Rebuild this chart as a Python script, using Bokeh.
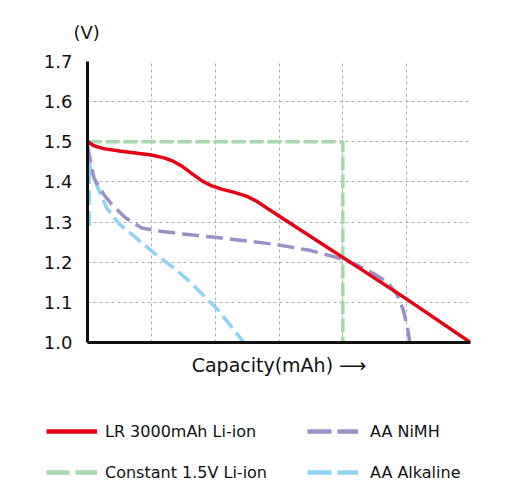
from bokeh.plotting import figure
from bokeh.layouts import column
from bokeh.models import Range1d, FixedTicker, Legend, LegendItem, Title, CustomJSTickFormatter
from bokeh.embed import file_html
from bokeh.resources import INLINE

# ---- data (capacity in grid units 0..6, voltage in V) ----
li_x = [0, 0.1, 0.25, 0.5, 0.75, 1.0, 1.2, 1.35, 1.5, 1.65, 1.8, 1.95, 2.1, 2.3, 2.5, 2.65, 2.8, 3.0, 4.0, 5.0, 6.0]
li_y = [1.5, 1.49, 1.483, 1.477, 1.472, 1.467, 1.46, 1.451, 1.437, 1.419, 1.402, 1.39, 1.382, 1.374, 1.364, 1.352, 1.336, 1.315, 1.212, 1.108, 1.0]

const_x = [0, 4, 4]
const_y = [1.5, 1.5, 1.0]

nimh_x = [0, 0.1, 0.25, 0.4, 0.6, 0.85, 1.1, 1.5, 2.0, 2.5, 3.0, 3.5, 3.9, 4.2, 4.5, 4.7, 4.85, 4.95, 5.02, 5.05]
nimh_y = [1.49, 1.41, 1.37, 1.34, 1.31, 1.285, 1.278, 1.27, 1.262, 1.253, 1.243, 1.229, 1.212, 1.195, 1.17, 1.15, 1.12, 1.08, 1.03, 1.0]

alk_x = [0.025, 0.025, 0.05, 0.15, 0.3, 0.5, 0.75, 1.05, 1.35, 1.6, 1.8, 2.05, 2.25, 2.45]
alk_y = [1.29, 1.45, 1.43, 1.39, 1.335, 1.295, 1.262, 1.222, 1.186, 1.152, 1.12, 1.08, 1.04, 1.0]

y_ticks = [1.0, 1.1, 1.2, 1.3, 1.4, 1.5, 1.6, 1.7]
x_grid = [0, 1, 2, 3, 4, 5, 6]

labels = ["LR 3000mAh Li-ion", "Constant 1.5V Li-ion", "AA NiMH", "AA Alkaline"]
colors = ["#E60012", "#A6D8AE", "#9B8FC8", "#8ED3F3"]

FONT = "DejaVu Sans"

p = figure(width=512, height=400, output_backend="svg", toolbar_location=None,
           x_range=Range1d(0, 6), y_range=Range1d(1.0, 1.7),
           min_border_left=87, min_border_right=42, min_border_top=61, min_border_bottom=58)
p.frame_align = False
p.outline_line_color = None
p.background_fill_color = "white"

# grid
p.xgrid.ticker = FixedTicker(ticks=x_grid)
p.ygrid.ticker = FixedTicker(ticks=y_ticks)
for g in (p.xgrid, p.ygrid):
    g.grid_line_color = "#b0b0b0"
    g.grid_line_dash = "3 3"
    g.grid_line_width = 1

# y axis
ya = p.yaxis[0]
ya.ticker = FixedTicker(ticks=y_ticks)
ya.formatter = CustomJSTickFormatter(code="return tick.toFixed(1);")
ya.axis_line_width = 3
ya.axis_line_color = "#111111"
ya.major_tick_out = 0
ya.major_tick_in = 0
ya.minor_tick_out = 0
ya.minor_tick_in = 0
ya.major_tick_line_color = None
ya.minor_tick_line_color = None
ya.major_label_text_font = FONT
ya.major_label_text_font_size = "18px"
ya.major_label_text_color = "#111111"
ya.major_label_standoff = 15

# x axis (no tick labels)
xa = p.xaxis[0]
xa.ticker = FixedTicker(ticks=[])
xa.axis_line_width = 3
xa.axis_line_color = "#111111"
xa.major_tick_out = 0
xa.major_tick_in = 0
xa.minor_tick_out = 0
xa.minor_tick_in = 0
xa.major_tick_line_color = None
xa.minor_tick_line_color = None
xa.axis_label = "Capacity(mAh) ⟶"
xa.axis_label_text_font = FONT
xa.axis_label_text_font_size = "19px"
xa.axis_label_text_font_style = "normal"
xa.axis_label_text_color = "#111111"
xa.axis_label_standoff = 11

# "(V)" unit title
t = Title(text="(V)", align="left", offset=-14, standoff=38,
          text_font=FONT, text_font_size="18px", text_font_style="normal", text_color="#111111")
p.add_layout(t, "above")

# curves
p.line(alk_x, alk_y, line_color=colors[3], line_width=3.5, line_dash="15 6")
p.line(nimh_x, nimh_y, line_color=colors[2], line_width=3.5, line_dash="17 7")
p.line(const_x, const_y, line_color=colors[1], line_width=3.5, line_dash="14 4")
p.line(li_x, li_y, line_color=colors[0], line_width=3.5)

# ---- legend figure ----
q = figure(width=512, height=84, output_backend="svg", toolbar_location=None,
           x_range=Range1d(0, 1), y_range=Range1d(0, 1),
           x_axis_location=None, y_axis_location=None,
           min_border_left=0, min_border_right=0, min_border_top=0, min_border_bottom=0)
q.frame_align = False
q.outline_line_color = None
q.xgrid.visible = False
q.ygrid.visible = False

# hidden proxies carrying the series (shown only as legend swatches)
r_li = q.line(li_x, li_y, line_color=colors[0], line_width=4.5, visible=False)
r_co = q.line(const_x, const_y, line_color=colors[1], line_width=4.5, line_dash="23 6", visible=False)
r_ni = q.line(nimh_x, nimh_y, line_color=colors[2], line_width=4.5, line_dash="24 6", visible=False)
r_al = q.line(alk_x, alk_y, line_color=colors[3], line_width=4.5, line_dash="24 6", visible=False)

def make_legend(items, loc, standoff):
    return Legend(items=items, location=loc, orientation="vertical",
                  glyph_width=51, glyph_height=20, label_standoff=standoff, spacing=21,
                  label_height=20, padding=0, margin=0,
                  inactive_fill_alpha=0,
                  border_line_color=None, background_fill_alpha=0,
                  label_text_font=FONT, label_text_font_size="16px", label_text_color="#111111")

q.add_layout(make_legend([LegendItem(label=labels[0], renderers=[r_li]),
                          LegendItem(label=labels[1], renderers=[r_co])], (46, 2), 8), "center")
q.add_layout(make_legend([LegendItem(label=labels[2], renderers=[r_ni]),
                          LegendItem(label=labels[3], renderers=[r_al])], (307, 2), 12), "center")

layout = column(p, q, spacing=0)
open("out.html", "w").write(file_html(layout, INLINE))
